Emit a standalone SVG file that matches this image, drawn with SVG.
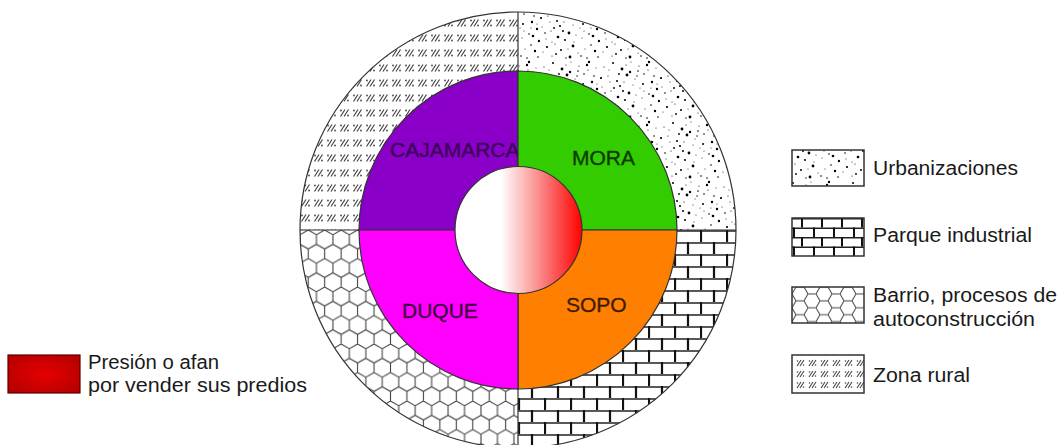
<svg xmlns="http://www.w3.org/2000/svg" width="1064" height="445" viewBox="0 0 1064 445">
<style>
.lbl{font-family:"Liberation Sans",Arial,sans-serif;font-size:20px;fill:#1a1a1a}
.zone{font-family:"Liberation Sans",Arial,sans-serif;font-size:21px;stroke-width:0.35}
.edge{stroke:#333;stroke-width:1.2}
.box{stroke:#333;stroke-width:1.5}
</style>
<defs>
<pattern id="urb" patternUnits="userSpaceOnUse" width="60" height="60">
<rect width="60" height="60" fill="#fff"/>
<g fill="#000">
<circle cx="4" cy="7" r=".6"/><circle cx="13" cy="3" r="1"/><circle cx="22" cy="9" r="1.4"/><circle cx="31" cy="2" r=".5"/><circle cx="38" cy="11" r=".8"/><circle cx="47" cy="5" r="1.2"/><circle cx="56" cy="8" r=".5"/>
<circle cx="8" cy="16" r=".6"/><circle cx="17" cy="21" r="1"/><circle cx="27" cy="15" r="1.4"/><circle cx="35" cy="19" r=".5"/><circle cx="44" cy="14" r=".8"/><circle cx="52" cy="22" r="1.2"/><circle cx="2" cy="27" r=".5"/>
<circle cx="11" cy="31" r=".6"/><circle cx="20" cy="26" r="1"/><circle cx="29" cy="33" r="1.4"/><circle cx="40" cy="28" r=".5"/><circle cx="49" cy="34" r=".8"/><circle cx="57" cy="29" r="1.2"/><circle cx="6" cy="39" r=".5"/>
<circle cx="15" cy="44" r=".6"/><circle cx="25" cy="40" r="1"/><circle cx="33" cy="46" r="1.4"/><circle cx="42" cy="38" r=".5"/><circle cx="51" cy="45" r=".8"/><circle cx="59" cy="41" r="1.2"/><circle cx="3" cy="52" r=".5"/>
<circle cx="12" cy="56" r=".6"/><circle cx="21" cy="50" r="1"/><circle cx="30" cy="57" r="1.4"/><circle cx="38" cy="53" r=".5"/><circle cx="47" cy="58" r=".8"/><circle cx="55" cy="51" r="1.2"/><circle cx="9" cy="10" r=".5"/>
<circle cx="26" cy="5" r=".6"/><circle cx="43" cy="24" r="1"/><circle cx="18" cy="37" r="1.3"/><circle cx="36" cy="35" r=".5"/><circle cx="54" cy="16" r=".8"/><circle cx="7" cy="47" r="1.1"/><circle cx="45" cy="49" r=".5"/>
<circle cx="24" cy="22" r=".6"/><circle cx="14" cy="28" r=".9"/><circle cx="49" cy="2" r="1.2"/><circle cx="33" cy="25" r=".5"/><circle cx="58" cy="57" r=".8"/><circle cx="1" cy="18" r="1.1"/><circle cx="28" cy="49" r=".5"/>
<circle cx="39" cy="6" r=".6"/><circle cx="19" cy="14" r=".9"/><circle cx="53" cy="36" r="1.3"/><circle cx="10" cy="22" r=".5"/><circle cx="41" cy="56" r=".8"/><circle cx="23" cy="31" r="1"/><circle cx="34" cy="42" r=".5"/>
<circle cx="48" cy="10" r=".6"/><circle cx="16" cy="54" r=".9"/><circle cx="57" cy="24" r=".5"/><circle cx="5" cy="33" r=".8"/><circle cx="30" cy="12" r="1.2"/><circle cx="44" cy="31" r=".5"/><circle cx="26" cy="58" r=".7"/>
<circle cx="12" cy="42" r=".5"/><circle cx="37" cy="16" r=".7"/><circle cx="51" cy="28" r=".5"/>
</g>
</pattern>
<pattern id="rural" patternUnits="userSpaceOnUse" width="13" height="15">
<rect width="13" height="15" fill="#fff"/>
<path d="M2.5,11.5 L7,4.5 M6,11.5 L10.5,4.5" stroke="#444" stroke-width="1.2"/>
<circle cx="3" cy="5.5" r=".9" fill="#444"/><circle cx="10" cy="10.5" r=".9" fill="#444"/>
</pattern>
<pattern id="rural2" patternUnits="userSpaceOnUse" width="12" height="11" x="794" y="357">
<rect width="12" height="11" fill="#fff"/>
<path d="M3,9 L7,3 M6,9 L10,3" stroke="#444" stroke-width="1.1"/>
<circle cx="3.5" cy="4" r=".8" fill="#444"/><circle cx="9.5" cy="8" r=".8" fill="#444"/>
</pattern>
<pattern id="hex" patternUnits="userSpaceOnUse" width="16.454" height="28.5" x="300" y="230">
<rect width="16.454" height="28.5" fill="#fff"/>
<path d="M8.227,0 L16.454,4.75 L16.454,14.25 L8.227,19 L0,14.25 L0,4.75 Z M8.227,19 L8.227,28.5" fill="none" stroke="#444" stroke-width="1.1"/>
</pattern>
<pattern id="hex2" patternUnits="userSpaceOnUse" width="24" height="13.856" x="792" y="287">
<rect width="24" height="13.856" fill="#fff"/>
<path d="M0,6.928 L4,0 L12,0 L16,6.928 L12,13.856 L4,13.856 Z M16,6.928 L24,6.928" fill="none" stroke="#444" stroke-width="1"/>
</pattern>
<pattern id="brick" patternUnits="userSpaceOnUse" width="26" height="24" x="518" y="230">
<rect width="26" height="24" fill="#fff"/>
<path d="M0,1 H26 M0,13 H26" stroke="#222" stroke-width="1.6"/>
<path d="M1,0 V12 M14,12 V24" stroke="#111" stroke-width="2.2"/>
</pattern>
<pattern id="brick2" patternUnits="userSpaceOnUse" width="20" height="19" x="792" y="218">
<rect width="20" height="19" fill="#fff"/>
<path d="M0,0.8 H20 M0,10.3 H20" stroke="#222" stroke-width="1.4"/>
<path d="M10,0 V9.5 M2,9.5 V19" stroke="#111" stroke-width="2"/>
</pattern>
<linearGradient id="press" x1="0" y1="0" x2="1" y2="0">
<stop offset="0" stop-color="#fff"/>
<stop offset="0.36" stop-color="#fff"/>
<stop offset="0.66" stop-color="#fa8c8c"/>
<stop offset="1" stop-color="#ff0000"/>
</linearGradient>
<radialGradient id="redbox" cx="0.5" cy="0.5" r="0.6">
<stop offset="0" stop-color="#e60000"/>
<stop offset="1" stop-color="#b80000"/>
</radialGradient>
</defs>
<rect width="1064" height="445" fill="#fff"/>

<g id="outer-ring">
<path d="M518,230 L300,230 A218,218 0 0 1 518,12 Z" fill="url(#rural)"/>
<path d="M518,230 L518,12 A218,218 0 0 1 736,230 Z" fill="url(#urb)"/>
<path d="M518,230 L736,230 A218,218 0 0 1 518,448 Z" fill="url(#brick)"/>
<path d="M518,230 L518,448 A218,218 0 0 1 300,230 Z" fill="url(#hex)"/>
<circle cx="518" cy="230" r="218" fill="none" class="edge"/>
</g>

<g id="connectors" class="edge">
<line x1="518" y1="12" x2="518" y2="448"/>
<line x1="300" y1="230" x2="736" y2="230"/>
</g>

<g id="cajamarca">
<path d="M518,230 L359,230 A159,159 0 0 1 518,71 Z" fill="#8a00c8" class="edge"/>
<text class="zone" x="390" y="157" font-size="19" fill="#3a0058" stroke="#3a0058">CAJAMARCA</text>
</g>
<g id="mora">
<path d="M518,230 L518,71 A159,159 0 0 1 677,230 Z" fill="#33cc00" class="edge"/>
<text class="zone" x="572" y="165" fill="#0c3a00" stroke="#0c3a00">MORA</text>
</g>
<g id="sopo">
<path d="M518,230 L677,230 A159,159 0 0 1 518,389 Z" fill="#ff8000" class="edge"/>
<text class="zone" x="566" y="312" fill="#3f1c00" stroke="#3f1c00">SOPO</text>
</g>
<g id="duque">
<path d="M518,230 L518,389 A159,159 0 0 1 359,230 Z" fill="#ff00ff" class="edge"/>
<text class="zone" x="402" y="318" fill="#3e003e" stroke="#3e003e">DUQUE</text>
</g>

<g id="center">
<circle cx="518.5" cy="230" r="63.5" fill="url(#press)" class="edge"/>
</g>

<g id="legend-presion">
<rect x="8" y="355" width="72" height="38" fill="url(#redbox)" stroke="#5a0000" stroke-width="1.2"/>
<text class="lbl" x="88" y="369" textLength="131" lengthAdjust="spacingAndGlyphs">Presión o afan</text>
<text class="lbl" x="88" y="392" textLength="219" lengthAdjust="spacingAndGlyphs">por vender sus predios</text>
</g>

<g id="legend-urb">
<rect x="792" y="150" width="72" height="36" fill="url(#urb)" class="box"/>
<text class="lbl" x="873" y="175" textLength="145" lengthAdjust="spacingAndGlyphs">Urbanizaciones</text>
</g>
<g id="legend-parque">
<rect x="792" y="218" width="72" height="38" fill="url(#brick2)" class="box"/>
<text class="lbl" x="873" y="242" textLength="159" lengthAdjust="spacingAndGlyphs">Parque industrial</text>
</g>
<g id="legend-barrio">
<rect x="792" y="287" width="72" height="36" fill="url(#hex2)" class="box"/>
<text class="lbl" x="873" y="302" textLength="184" lengthAdjust="spacingAndGlyphs">Barrio, procesos de</text>
<text class="lbl" x="873" y="326" textLength="162" lengthAdjust="spacingAndGlyphs">autoconstrucción</text>
</g>
<g id="legend-rural">
<rect x="792" y="355" width="72" height="38" fill="url(#rural2)" class="box"/>
<text class="lbl" x="873" y="382" textLength="97" lengthAdjust="spacingAndGlyphs">Zona rural</text>
</g>
</svg>
